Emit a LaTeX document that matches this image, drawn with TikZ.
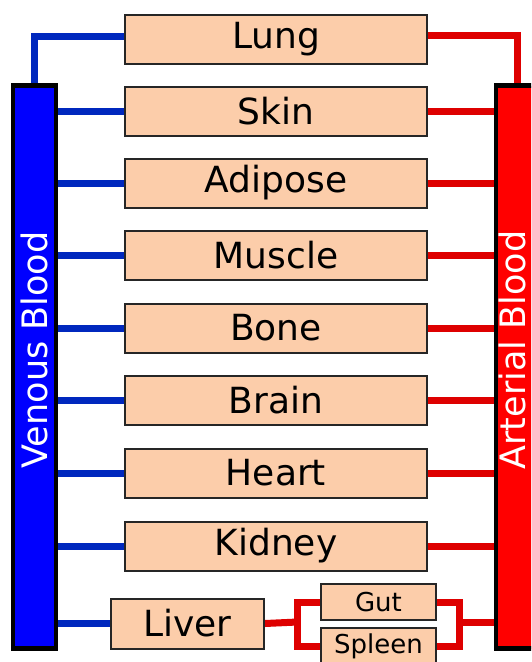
\documentclass[tikz,border=0pt]{standalone}
\usepackage{fontspec}
\setmainfont{DejaVu Sans}
\usepackage{xcolor}
\usepackage{tikz}
\usetikzlibrary{backgrounds,calc}
\definecolor{peach}{RGB}{252,205,170}
\definecolor{vblue}{RGB}{0,40,190}
\definecolor{ared}{RGB}{222,0,0}
\tikzset{
  organ/.style={draw=black!85, line width=2pt, fill=peach, minimum width=302pt, minimum height=49pt, inner sep=0pt, font=\fontsize{36}{40}\selectfont},
  small/.style={organ, minimum width=115pt, minimum height=36pt, font=\fontsize{26}{30}\selectfont},
  bar/.style={draw=black, line width=4.5pt, minimum width=43pt, minimum height=563pt, inner sep=0pt},
  vline/.style={vblue, line width=7pt, line join=miter},
  aline/.style={ared, line width=7pt, line join=miter},
}

\begin{document}
\begin{tikzpicture}[x=1pt, y=-1pt, lbl/.style={white, rotate=90, inner sep=0pt, font=\fontsize{35}{38}\selectfont}]
\useasboundingbox (0,0) rectangle (531,662);
\clip (0,0) rectangle (531,662);
% blood pools
\node[bar, fill=blue] (venous) at (34.5,367) {};
\node[bar, fill=red] (arterial) at (517.5,367) {};
\node[lbl] (venouslbl) at (34.5,350) {Venous Blood};
\node[lbl] (arteriallbl) at (512,350) {Arterial Blood};
% organs
\node[organ] (lung) at (276,39) {Lung};
\node[organ] (skin) at (276,111) {Skin};
\node[organ] (adipose) at (276,183) {Adipose};
\node[organ] (muscle) at (276,255.5) {Muscle};
\node[organ] (bone) at (276,328) {Bone};
\node[organ] (brain) at (276,400) {Brain};
\node[organ] (heart) at (276,473) {Heart};
\node[organ] (kidney) at (276,546) {Kidney};
\node[organ, minimum width=153pt, minimum height=50pt] (liver) at (187.5,623.5) {Liver};
\node[small] (gut) at (378.5,602) {Gut};
\node[small] (spleen) at (378.5,646) {Spleen};
\coordinate (split) at (297.5,622);
\coordinate (merge) at (459.5,622);
\begin{scope}[on background layer]
\draw[vline] ([yshift=3pt]lung.west) -| (venous.north);
\draw[aline] ([yshift=4pt]lung.east) -| (arterial.north);
\draw[vline] (skin.west) -- (skin.west -| venous.east);
\draw[aline] (skin.east) -- (skin.east -| arterial.west);
\draw[vline] (adipose.west) -- (adipose.west -| venous.east);
\draw[aline] (adipose.east) -- (adipose.east -| arterial.west);
\draw[vline] (muscle.west) -- (muscle.west -| venous.east);
\draw[aline] (muscle.east) -- (muscle.east -| arterial.west);
\draw[vline] (bone.west) -- (bone.west -| venous.east);
\draw[aline] (bone.east) -- (bone.east -| arterial.west);
\draw[vline] (brain.west) -- (brain.west -| venous.east);
\draw[aline] (brain.east) -- (brain.east -| arterial.west);
\draw[vline] (heart.west) -- (heart.west -| venous.east);
\draw[aline] (heart.east) -- (heart.east -| arterial.west);
\draw[vline] (kidney.west) -- (kidney.west -| venous.east);
\draw[aline] (kidney.east) -- (kidney.east -| arterial.west);
% splanchnic branch
\draw[vline] (liver.west) -- (liver.west -| venous.east);
\draw[aline] (liver.east) -- (split);
\draw[aline] (gut.west) -| (split) |- (spleen.west);
\draw[aline] (gut.east) -| (merge) |- (spleen.east);
\draw[aline] (merge) -- (merge -| arterial.west);
\end{scope}
\end{tikzpicture}
\end{document}
